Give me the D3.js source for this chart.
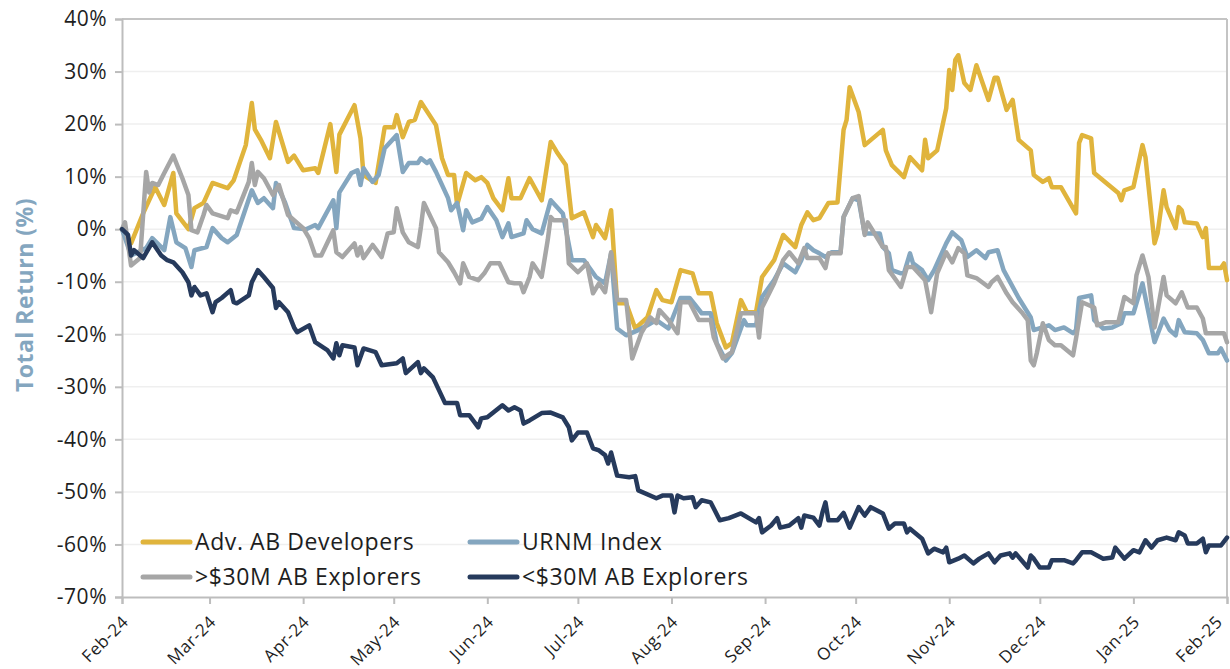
<!DOCTYPE html>
<html>
<head>
<meta charset="utf-8">
<script src="https://cdn.jsdelivr.net/npm/d3@7"></script>
<style>
  body { margin: 0; background: #fff; }
  text { font-family: "Open Sans", "Noto Sans", sans-serif; }
</style>
</head>
<body>
<div id="chart"></div>
<script>
// day offsets are counted from 1 Feb 2024, returns are in %
var startDate = new Date(2024, 1, 1);

var seriesNames = ["Adv. AB Developers", "URNM Index", ">$30M AB Explorers", "<$30M AB Explorers"];
var seriesColors = ["#e0b43c", "#84a6bf", "#a6a6a6", "#263a5c"];

var advDays = [0,3,7,11,14,17,18,22,24,27,30,35,37,41,43,44,46,49,51,55,57,60,64,65,69,71,72,77,79,80,84,87,90,91,93,95,97,99,104,106,108,110,111,114,117,119,121,123,126,128,129,132,135,139,142,144,147,149,153,156,157,160,162,164,167,170,174,177,179,182,185,189,191,195,197,200,202,205,207,210,212,216,219,223,225,227,229,231,234,237,239,240,241,244,246,252,253,255,259,261,265,266,267,270,273,274,275,276,277,279,281,283,287,289,290,293,295,297,301,302,305,307,308,311,316,317,318,321,322,326,330,331,332,335,338,339,342,343,345,346,349,350,351,352,356,358,359,360,364,365,366];
var advReturns = [0,-2.7,3,8,4.6,10.7,3,0,4,5,8.8,7.8,9.3,16,24,19,17,13.5,20.4,12.8,14,11.2,11.6,10.7,20,10.9,18,23.6,17.3,10.3,8.8,19.4,19.4,21.7,17.5,20.4,20.8,24.2,19.8,13.5,10.3,10.3,4.6,10.7,9.3,9.9,8.8,5.9,3.6,9.7,5.9,5.9,9.7,5.5,16.6,14.7,12.2,2.1,3.2,-1.5,0.8,-1.7,3.6,-14.1,-14.1,-18.9,-16.8,-11.6,-13.5,-13.9,-7.8,-8.4,-12.2,-12.2,-17.9,-22.5,-21.7,-13.5,-15.8,-15.8,-9.1,-5.9,-1.1,-3.4,0.8,3.2,1.7,2.1,5,5.1,18.9,20.8,27,22.3,16,18.9,15,12.2,9.9,13.7,11.2,17,13.5,15,23,30.3,26.5,32.2,33.1,27.8,26.5,31.2,24.6,28.8,28.8,22.7,24.6,17,15,10.3,9,9.7,8,8,3,16.4,17.9,17.3,10.7,8.8,6.9,5.5,7.4,8,16,13.7,-2.7,-0.8,7.4,4.2,0.2,4.2,3.6,1.3,1.1,-1.5,0.2,-7.4,-7.4,-6.5,-9.7];

var urnmDays = [0,3,8,10,14,16,18,21,23,24,28,30,33,35,38,43,45,47,50,51,54,57,61,64,65,70,71,72,76,78,79,80,83,85,87,91,93,95,98,99,101,102,104,108,109,111,113,114,116,119,121,124,126,128,129,133,134,136,139,142,146,149,153,157,160,162,164,167,171,174,177,181,185,188,192,195,197,200,202,206,207,210,212,216,219,223,225,227,229,231,233,235,238,239,242,244,246,251,252,254,255,258,259,261,262,265,267,269,273,275,278,280,283,286,287,290,292,297,301,302,307,309,312,315,316,317,321,322,325,328,331,332,335,338,342,345,347,349,350,352,356,358,360,363,364,366];
var urnmReturns = [0,-5,-3.6,-1.7,-4,2.3,-2.5,-3.6,-7.2,-4,-3.4,0.2,-1.7,-2.5,-1.1,7.4,5,5.9,4,8.8,5.1,0.2,0,0.8,0.2,5.5,0.2,7,10.7,11.2,8.4,11.6,9,10.3,15.4,17.9,10.9,12.6,12.6,13.5,12.6,13.1,10.9,5.9,3.6,5,-0.2,3.6,1.3,2,4.2,1.7,-1.5,1.1,-1.5,-0.8,1.7,0,-0.8,5.5,3,-5.9,-5.9,-9.1,-10.3,-4.6,-18.9,-20.2,-19.2,-18.3,-17.3,-18.9,-13.1,-13.1,-16,-16,-21.7,-25,-23.6,-17.3,-18.3,-18.3,-12.9,-9.7,-6.5,-8.2,-5.9,-3,-4,-4.6,-5.3,-4.4,-4.4,2.3,5.9,5.5,-0.8,-0.8,-3.4,-4.6,-7.8,-8.4,-8.4,-4.6,-6.5,-7.8,-9.7,-7.8,-2.7,-0.6,-2.1,-5.3,-4,-5.5,-4.4,-4,-7.8,-13.1,-16.8,-19.2,-18.3,-19.2,-18.7,-19.8,-19.2,-13.1,-12.6,-17.3,-18.9,-18.7,-17.9,-16,-16,-10.3,-21.5,-17,-19.2,-20.2,-17.3,-19.6,-19.8,-21.1,-23.6,-23.6,-22.7,-25];

var bigExpDays = [0,1,3,6,8,9,10,12,14,17,20,22,23,25,27,28,30,35,36,38,42,43,44,45,47,50,52,55,60,62,64,66,70,71,73,77,78,79,80,83,86,88,90,91,93,95,98,99,100,104,105,108,110,112,113,115,118,120,122,125,128,130,132,133,135,136,139,141,142,143,147,148,151,154,156,158,160,162,164,167,169,172,175,177,178,181,184,185,188,191,195,196,199,202,205,210,211,212,216,219,221,224,226,227,229,231,233,234,238,239,242,244,246,247,252,253,254,258,260,262,266,268,270,273,275,277,279,280,283,287,288,290,293,295,298,300,301,302,303,305,307,309,311,315,316,318,322,323,326,330,332,335,336,338,340,342,345,346,349,351,353,356,358,359,365,366];
var bigExpReturns = [0,1.3,-6.9,-5.5,10.9,7,8.8,8.4,10.7,14,9.7,6.5,-0.2,-0.6,2.7,4.6,3,2.1,3.6,3.2,9,12.6,8.4,10.9,9.7,6.5,8.4,2.7,0.2,-1.7,-5,-5,-0.2,-4.4,-5.3,-2.7,-5,-3.4,-5.5,-3,-5.3,-0.8,-0.6,4,-0.6,-2.5,-3.4,0.4,5,0.2,-4.4,-6.3,-8.2,-10.3,-6.5,-9.1,-9.7,-8.4,-6.5,-6.5,-10.1,-10.3,-10.3,-12,-9.1,-6.5,-9.1,-2.1,2.3,1.7,1.7,-6.5,-8.2,-6.5,-12.2,-10.3,-12,-4.4,-13.5,-13.5,-24.6,-19.8,-16.8,-17.9,-15.4,-17.3,-19.8,-13.9,-13.9,-17.3,-17.3,-20.6,-24.6,-23.4,-16,-16,-20.6,-14.9,-10.3,-5.9,-4.4,-6.5,-3.6,-5.5,-5.5,-5.5,-7.4,-4.6,-4.6,2.3,5.9,6.3,-1.1,1.3,-3.4,-3.4,-7.8,-11,-7.2,-7.2,-9.7,-15.8,-8.4,-4.4,-6.3,-3.6,-4.6,-8.8,-9.3,-11,-10.1,-9.1,-12.2,-13.9,-15.8,-17.3,-25,-25.9,-23.6,-17.9,-21.1,-22.1,-22.1,-24,-20.8,-13.9,-14.9,-18.3,-17.7,-17.7,-12.9,-14.1,-8.8,-5,-9.1,-18.7,-9.1,-12.6,-14.1,-12,-14.9,-14.9,-17,-19.8,-19.8,-21.5];

var smallExpDays = [0,2,3,4,7,10,13,15,17,20,22,23,24,26,28,30,31,33,36,37,38,42,43,45,47,50,51,52,55,57,58,62,64,68,70,71,72,73,77,78,80,84,86,91,93,94,98,99,100,103,107,111,112,115,118,119,121,126,128,130,132,133,135,139,142,146,148,149,151,154,156,158,160,161,162,164,168,170,171,177,179,182,183,184,186,189,190,192,195,198,201,205,210,211,212,215,217,218,221,224,225,226,229,231,232,233,234,237,239,241,244,246,248,252,254,256,259,260,261,265,267,269,272,273,274,277,279,282,284,287,289,291,294,295,296,300,301,302,304,307,308,312,315,316,318,321,323,325,328,329,332,335,337,339,341,343,346,349,350,352,353,356,358,359,360,364,366];
var smallExpReturns = [0,-1.1,-5,-4,-5.5,-2.5,-5,-5.9,-6.3,-8.2,-10.1,-12.6,-11,-12.6,-12.2,-15.8,-13.9,-13.1,-11.6,-13.9,-14.1,-12.6,-10.1,-7.8,-9.1,-11.2,-15,-13.9,-15.8,-18.7,-19.6,-18.3,-21.5,-23,-24.6,-21.7,-24,-22.1,-22.5,-25.9,-22.7,-23.4,-25.9,-25.5,-24.6,-27.4,-25.3,-27.4,-26.5,-28.2,-33.1,-33.1,-35.4,-35.4,-37.7,-36,-35.8,-33.5,-34.5,-33.9,-34.5,-37,-36.4,-35,-34.9,-35.8,-37.7,-40.2,-38.7,-38.7,-41.7,-42.1,-43,-44.6,-42.5,-46.9,-47.2,-47,-49.7,-51.2,-50.7,-50.7,-53.9,-50.7,-51.2,-51,-52.9,-51.6,-52,-55.4,-55,-54.1,-55.8,-55,-57.7,-56.4,-55,-56.8,-56.4,-55,-56.8,-54.5,-54.9,-56.4,-53.9,-52,-55.4,-55.4,-54,-56.8,-52.9,-54.5,-52.9,-54.1,-57,-56,-56,-57.7,-57,-58.9,-61.7,-60.8,-61.5,-60.6,-63.4,-62.7,-62.1,-63.6,-62.7,-61.7,-63.4,-62.1,-61.7,-62.5,-61.7,-64.4,-62.1,-62.7,-64.4,-64.4,-63,-63,-63.6,-63,-61.5,-61.5,-62.1,-62.7,-62.5,-60.6,-62.7,-61.1,-61.5,-59.2,-60.6,-59.2,-58.7,-59.2,-57.7,-58.3,-59.8,-59.8,-58.9,-61.5,-60.2,-60.2,-58.7];

var yTicks = [40, 30, 20, 10, 0, -10, -20, -30, -40, -50, -60, -70];

var seriesDays = [advDays, urnmDays, bigExpDays, smallExpDays];
var seriesReturns = [advReturns, urnmReturns, bigExpReturns, smallExpReturns];

var width = 1230, height = 669;
var margin = {top: 19, right: 3, bottom: 72, left: 122};

var svg = d3.select("#chart")
  .append("svg")
    .attr("width", width)
    .attr("height", height);

var x = d3.scaleTime()
  .domain([startDate, d3.timeDay.offset(startDate, 366)])
  .range([margin.left, width - margin.right]);

var y = d3.scaleLinear()
  .domain([-70, 40])
  .range([height - margin.bottom, margin.top]);

// gridlines
svg.append("g")
  .selectAll("line")
  .data(yTicks.filter(function(d) { return d > -70 && d < 40; }))
  .enter()
  .append("line")
    .attr("x1", margin.left)
    .attr("x2", width - margin.right)
    .attr("y1", function(d) { return y(d); })
    .attr("y2", function(d) { return y(d); })
    .style("stroke", "#efefef")
    .style("stroke-width", 1.5);

// top and right border
svg.append("line")
  .attr("x1", margin.left).attr("x2", width - margin.right)
  .attr("y1", y(40)).attr("y2", y(40))
  .style("stroke", "#c4c4c4").style("stroke-width", 2);
svg.append("line")
  .attr("x1", width - margin.right).attr("x2", width - margin.right)
  .attr("y1", y(40)).attr("y2", y(-70))
  .style("stroke", "#c4c4c4").style("stroke-width", 2);

// y axis
var yAxis = svg.append("g")
  .attr("transform", "translate(" + margin.left + ",0)")
  .call(d3.axisLeft(y).tickValues(yTicks).tickSize(7).tickPadding(8)
    .tickFormat(function(d) { return d + "%"; }));
yAxis.select(".domain").style("stroke", "#bdbdbd").style("stroke-width", 2);
yAxis.selectAll(".tick line").style("stroke", "#bdbdbd").style("stroke-width", 2);
yAxis.selectAll(".tick text")
  .style("font-size", "21px")
  .style("letter-spacing", "0.5px")
  .style("fill", "#1e1e1e")
  .style("font-family", "'Open Sans', sans-serif");

// x axis
var lastMonth = d3.timeMonth.floor(x.domain()[1]);
var xAxis = svg.append("g")
  .attr("transform", "translate(0," + y(-70) + ")")
  .call(d3.axisBottom(x).ticks(d3.timeMonth.every(1)).tickSize(7)
    .tickFormat(d3.timeFormat("%b-%y")));
xAxis.select(".domain").style("stroke", "#bdbdbd").style("stroke-width", 2);
xAxis.selectAll(".tick line").style("stroke", "#bdbdbd").style("stroke-width", 2);
xAxis.selectAll(".tick text")
  .attr("text-anchor", "end")
  .attr("dy", null)
  .attr("y", 0)
  .attr("transform", function(d) {
    // keep the last label inside the page
    var dx = +d === +lastMonth ? -4 : 7;
    return "translate(" + dx + ",26) rotate(-45)";
  })
  .style("font-size", "17px")
  .style("letter-spacing", "0.6px")
  .style("fill", "#1e1e1e")
  .style("font-family", "'Open Sans', sans-serif");

// axis title
svg.append("text")
  .attr("transform", "translate(33,295) rotate(-90)")
  .attr("text-anchor", "middle")
  .style("font-size", "23px")
  .style("font-weight", "bold")
  .style("letter-spacing", "0.5px")
  .style("fill", "#84a6bf")
  .text("Total Return (%)");

// lines
var line = d3.line()
  .x(function(d) { return x(d3.timeDay.offset(startDate, d[0])); })
  .y(function(d) { return y(d[1]); })
  .curve(d3.curveLinear);

seriesNames.forEach(function(name, i) {
  if (seriesDays[i].length !== seriesReturns[i].length) console.warn(name, "length mismatch");
  svg.append("path")
    .datum(d3.zip(seriesDays[i], seriesReturns[i]))
    .attr("d", line)
    .style("fill", "none")
    .style("stroke", seriesColors[i])
    .style("stroke-width", 4.5)
    .style("stroke-linejoin", "round")
    .style("stroke-linecap", "round");
});

// legend, two columns by two rows
var legend = svg.append("g")
  .selectAll("g")
  .data(seriesNames)
  .enter()
  .append("g")
    .attr("transform", function(d, i) {
      return "translate(" + (143 + (i % 2) * 327) + "," + (542 + Math.floor(i / 2) * 35) + ")";
    });

legend.append("line")
  .attr("x1", 0).attr("x2", 47)
  .style("stroke", function(d, i) { return seriesColors[i]; })
  .style("stroke-width", 5)
  .style("stroke-linecap", "round");

legend.append("text")
  .attr("x", 52)
  .attr("dy", "0.35em")
  .style("font-size", "23px")
  .style("letter-spacing", "0.6px")
  .style("fill", "#1e1e1e")
  .text(function(d) { return d; });
</script>
</body>
</html>
